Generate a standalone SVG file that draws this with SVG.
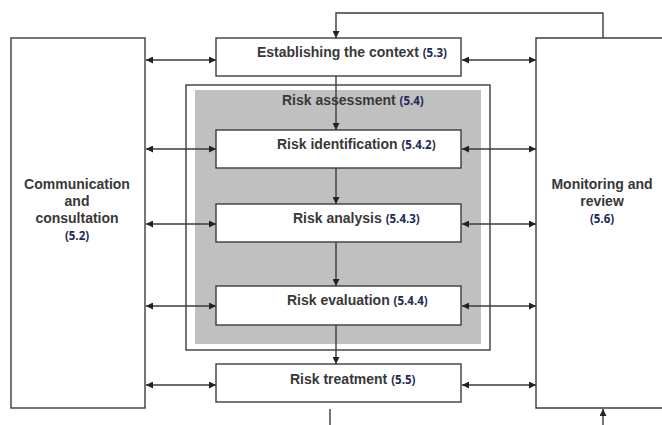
<svg xmlns="http://www.w3.org/2000/svg" width="662" height="425" viewBox="0 0 662 425">
<style>
.box{fill:#fff;stroke:#3c3c3c;stroke-width:1.4}
.ln{fill:none;stroke:#3c3c3c;stroke-width:1.4}
.t{font-family:"Liberation Sans",Arial,sans-serif;font-weight:bold;font-size:14px;fill:#383838}
.n{font-family:"Open Sans","Noto Sans",sans-serif;font-weight:bold;font-size:11.5px;fill:#1f2a55}
</style>
<defs>
<marker id="ah" viewBox="0 0 10 10" refX="10" refY="5" markerWidth="8" markerHeight="7" markerUnits="userSpaceOnUse" orient="auto-start-reverse">
<path d="M0,0 L10,5 L0,10 Z" fill="#222"/>
</marker>
</defs>
<rect width="662" height="425" fill="#fff"/>
<g id="risk-assessment">
<rect x="186" y="85" width="304" height="265" class="box"/>
<rect x="195" y="90" width="286" height="254" fill="#c0c0c0"/>
<text x="282" y="105" class="t">Risk assessment <tspan class="n">(5.4)</tspan></text>
</g>
<g id="communication">
<rect x="11" y="38" width="134" height="370" class="box"/>
<text x="77" y="189" text-anchor="middle" class="t">Communication</text>
<text x="77" y="206" text-anchor="middle" class="t">and</text>
<text x="77" y="223" text-anchor="middle" class="t">consultation</text>
<text x="77" y="240" text-anchor="middle" class="n">(5.2)</text>
</g>
<g id="monitoring">
<path d="M670,38 H536 V408 H670" class="box"/>
<text x="602" y="189" text-anchor="middle" class="t">Monitoring and</text>
<text x="602" y="206" text-anchor="middle" class="t">review</text>
<text x="602" y="223" text-anchor="middle" class="n">(5.6)</text>
</g>
<g id="context">
<rect x="216" y="38" width="245" height="38" class="box"/>
<text x="257" y="57" class="t">Establishing the context <tspan class="n">(5.3)</tspan></text>
</g>
<g id="identification">
<rect x="216" y="130" width="245" height="38" class="box"/>
<text x="277" y="149" class="t">Risk identification <tspan class="n">(5.4.2)</tspan></text>
</g>
<g id="analysis">
<rect x="216" y="204" width="245" height="38" class="box"/>
<text x="293" y="223" class="t">Risk analysis <tspan class="n">(5.4.3)</tspan></text>
</g>
<g id="evaluation">
<rect x="216" y="286" width="245" height="39" class="box"/>
<text x="287" y="305" class="t">Risk evaluation <tspan class="n">(5.4.4)</tspan></text>
</g>
<g id="treatment">
<rect x="216" y="364" width="245" height="38" class="box"/>
<text x="290" y="384" class="t">Risk treatment <tspan class="n">(5.5)</tspan></text>
</g>
<g id="connectors" class="ln">
<path d="M603,38 V13 H336 V38" marker-end="url(#ah)"/>
<path d="M336,76 V130" marker-end="url(#ah)"/>
<path d="M336,168 V204" marker-end="url(#ah)"/>
<path d="M336,242 V286" marker-end="url(#ah)"/>
<path d="M336,325 V364" marker-end="url(#ah)"/>
<path d="M330,409 V425"/>
<path d="M603,425 V409" marker-end="url(#ah)"/>
<path d="M146,60 H216" marker-start="url(#ah)" marker-end="url(#ah)"/>
<path d="M146,149 H216" marker-start="url(#ah)" marker-end="url(#ah)"/>
<path d="M146,224 H216" marker-start="url(#ah)" marker-end="url(#ah)"/>
<path d="M146,306 H216" marker-start="url(#ah)" marker-end="url(#ah)"/>
<path d="M146,385 H216" marker-start="url(#ah)" marker-end="url(#ah)"/>
<path d="M462,60 H536" marker-start="url(#ah)" marker-end="url(#ah)"/>
<path d="M462,149 H536" marker-start="url(#ah)" marker-end="url(#ah)"/>
<path d="M462,224 H536" marker-start="url(#ah)" marker-end="url(#ah)"/>
<path d="M462,306 H536" marker-start="url(#ah)" marker-end="url(#ah)"/>
<path d="M462,385 H536" marker-start="url(#ah)" marker-end="url(#ah)"/>
</g>
</svg>
